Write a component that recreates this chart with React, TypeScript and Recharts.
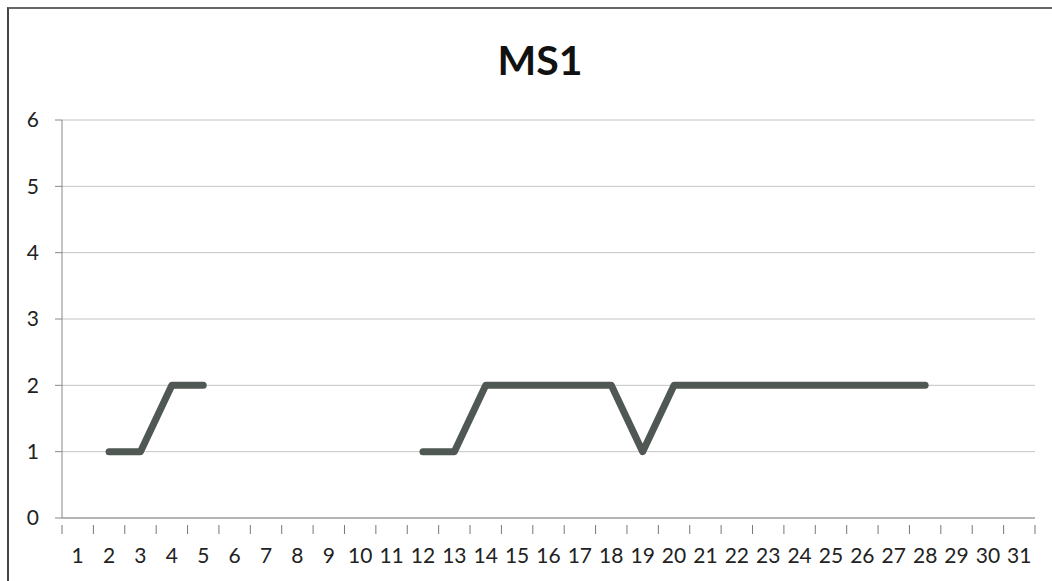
import React from 'react'
import { LineChart, Line, XAxis, YAxis, CartesianGrid } from 'recharts'

// day of month and MS1 value (null = no reading)
const days = [1, 2, 3, 4, 5, 6, 7, 8, 9, 10, 11, 12, 13, 14, 15, 16, 17, 18, 19, 20, 21, 22, 23, 24, 25, 26, 27, 28, 29, 30, 31]
const ms1 = [null, 1, 1, 2, 2, null, null, null, null, null, null, 1, 1, 2, 2, 2, 2, 2, 1, 2, 2, 2, 2, 2, 2, 2, 2, 2, null, null, null]
const yTicks = [0, 1, 2, 3, 4, 5, 6]

const data = days.map((d, i) => ({ x: d, v: ms1[i] }))

// labels on whole days, tick marks between days (like Excel category axis)
const xTicks = [days[0] - 0.5, ...days.flatMap(d => [d, d + 0.5])]

const FONT = 'Lato, "Open Sans", sans-serif'

const DayTick = ({ x, y, payload }: any) => {
  const v = payload.value
  if (Number.isInteger(v)) {
    return (
      <text x={x} y={y + 37} textAnchor="middle" fill="#222" fontSize={21} fontFamily={FONT}>
        {v}
      </text>
    )
  }
  return <line x1={x} x2={x} y1={y - 1} y2={y + 8} stroke="#777" strokeWidth={1} />
}

export default function App() {
  return (
    <div style={{ position: 'absolute', left: 0, top: 0, width: 1052, height: 581, background: '#fff', overflow: 'hidden' }}>
      <div style={{ position: 'absolute', left: 7, top: 7, width: 1060, height: 600, borderLeft: '2px solid #444', borderTop: '2px solid #666' }} />
      <div style={{ position: 'absolute', left: 0, top: 35, width: 1080, textAlign: 'center', fontFamily: FONT, fontWeight: 700, fontSize: 41, color: '#111' }}>
        MS1
      </div>
      <div style={{ position: 'absolute', left: 0, top: 0 }}>
        <LineChart width={1052} height={581} data={data} margin={{ top: 120, right: 17, bottom: 13, left: 12 }}>
          <CartesianGrid vertical={false} stroke="#c4c4c4" strokeWidth={1} />
          <XAxis
            dataKey="x"
            type="number"
            domain={[0.5, 31.5]}
            ticks={xTicks}
            interval={0}
            tick={<DayTick />}
            tickLine={false}
            axisLine={{ stroke: '#888' }}
            height={50}
          />
          <YAxis
            domain={[0, 6]}
            ticks={yTicks}
            interval={0}
            width={50}
            tick={{ fill: '#222', fontSize: 21, fontFamily: FONT, dx: -14 }}
            tickLine={{ stroke: '#888' }}
            tickSize={7}
            axisLine={{ stroke: '#888' }}
          />
          <Line
            dataKey="v"
            stroke="#505854"
            strokeWidth={7}
            strokeLinecap="round"
            strokeLinejoin="round"
            dot={false}
            connectNulls={false}
            isAnimationActive={false}
          />
        </LineChart>
      </div>
    </div>
  )
}
